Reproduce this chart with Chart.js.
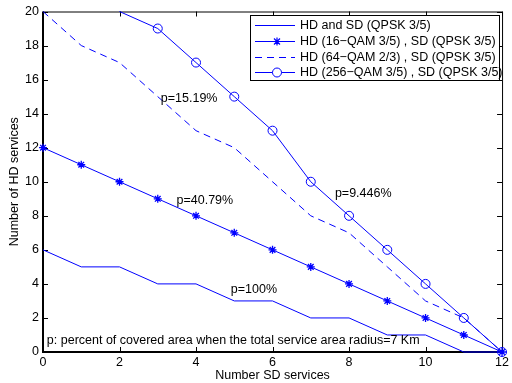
<!DOCTYPE html>
<html>
<head>
<meta charset="utf-8">
<script src="https://cdn.jsdelivr.net/npm/chart.js@4/dist/chart.umd.min.js"></script>
<style>
  html, body { margin: 0; padding: 0; background: #fff; }
  canvas { display: block; }
</style>
</head>
<body>
<canvas id="hdChart" width="512" height="383"></canvas>
<script>
// Number of SD services (x axis)
const sdServices = [0, 1, 2, 3, 4, 5, 6, 7, 8, 9, 10, 11, 12];

// Number of HD services for each case
const hdQpsk = [6, 5, 5, 4, 4, 3, 3, 2, 2, 1, 1, 0, 0];
const hd16qam = [12, 11, 10, 9, 8, 7, 6, 5, 4, 3, 2, 1, 0];
const hd64qam = [20, 18, 17, 15, 13, 12, 10, 8, 7, 5, 3, 2, 0];
const hd256qam = [null, null, 20, 19, 17, 15, 13, 10, 8, 6, 4, 2, 0];

const seriesNames = [
    'HD and SD (QPSK 3/5)',
    'HD (16\u2212QAM 3/5) , SD (QPSK 3/5)',
    'HD (64\u2212QAM 2/3) , SD (QPSK 3/5)',
    'HD (256\u2212QAM 3/5) , SD (QPSK 3/5)'
];

const xTicks = [0, 2, 4, 6, 8, 10, 12];
const yTicks = [0, 2, 4, 6, 8, 10, 12, 14, 16, 18, 20];

// text notes placed in data coordinates
const notes = [
    { text: 'p=15.19%', x: 3.08, y: 14.9 },
    { text: 'p=40.79%', x: 3.49, y: 8.91 },
    { text: 'p=9.446%', x: 7.63, y: 9.32 },
    { text: 'p=100%', x: 4.91, y: 3.69 },
    { text: 'p: percent of covered area when the total service area radius=7 Km', x: 0.1, y: 0.7 }
];

const blue = '#0000ff';
const font = "'Liberation Sans', Arial, sans-serif";
const fontSize = 12.5;

function toPoints(values) {
    return sdServices.map((x, i) => ({ x: x, y: values[i] }));
}

// box and inward ticks (matlab look), drawn under the data
const matlabFrame = {
    id: 'matlabFrame',
    beforeDatasetsDraw(chart) {
        const ctx = chart.ctx;
        const a = chart.chartArea;
        const xs = chart.scales.x;
        const ys = chart.scales.y;
        ctx.save();
        ctx.strokeStyle = '#000';
        ctx.lineWidth = 1;
        ctx.beginPath();
        xTicks.forEach(t => {
            const px = Math.round(xs.getPixelForValue(t)) + 0.5;
            ctx.moveTo(px, a.bottom); ctx.lineTo(px, a.bottom - 5);
            ctx.moveTo(px, a.top); ctx.lineTo(px, a.top + 5);
        });
        yTicks.forEach(t => {
            const py = Math.round(ys.getPixelForValue(t)) + 0.5;
            ctx.moveTo(a.left, py); ctx.lineTo(a.left + 5, py);
            ctx.moveTo(a.right, py); ctx.lineTo(a.right - 5, py);
        });
        ctx.stroke();

        // top and right thin
        ctx.beginPath();
        ctx.moveTo(a.left, a.top + 0.5); ctx.lineTo(a.right + 0.5, a.top + 0.5);
        ctx.lineTo(a.right + 0.5, a.bottom);
        ctx.stroke();
        // left and bottom thick
        ctx.lineWidth = 2;
        ctx.beginPath();
        ctx.moveTo(a.left, a.top); ctx.lineTo(a.left, a.bottom);
        ctx.lineTo(a.right + 1, a.bottom);
        ctx.stroke();
        ctx.restore();
    },
    // legend and notes on top
    afterDraw(chart) {
        const ctx = chart.ctx;
        const xs = chart.scales.x;
        const ys = chart.scales.y;
        ctx.save();
        ctx.fillStyle = '#000';
        ctx.font = fontSize + 'px ' + font;
        ctx.textBaseline = 'middle';
        ctx.textAlign = 'left';
        notes.forEach(n => {
            ctx.fillText(n.text, xs.getPixelForValue(n.x), ys.getPixelForValue(n.y));
        });

        const lx = 250, ly = 15, lw = 249, lh = 65;
        ctx.fillStyle = '#fff';
        ctx.fillRect(lx, ly, lw, lh);
        ctx.strokeStyle = '#000';
        ctx.lineWidth = 1;
        ctx.strokeRect(lx + 0.5, ly + 0.5, lw, lh);
        const rows = [25, 41, 57, 72];
        chart.data.datasets.forEach((ds, i) => {
            const y = rows[i] + 0.5;
            ctx.strokeStyle = blue;
            ctx.lineWidth = 1;
            ctx.setLineDash(ds.borderDash || []);
            ctx.beginPath();
            ctx.moveTo(255, y); ctx.lineTo(295, y);
            ctx.stroke();
            ctx.setLineDash([]);
            if (ds.pointStyle === 'star') {
                ctx.lineWidth = 1.2;
                ctx.beginPath();
                ctx.moveTo(277 - 4, y); ctx.lineTo(277 + 4, y);
                ctx.moveTo(277, y - 4); ctx.lineTo(277, y + 4);
                ctx.moveTo(277 - 3, y - 3); ctx.lineTo(277 + 3, y + 3);
                ctx.moveTo(277 - 3, y + 3); ctx.lineTo(277 + 3, y - 3);
                ctx.stroke();
            } else if (ds.pointStyle === 'circle') {
                ctx.fillStyle = '#fff';
                ctx.beginPath();
                ctx.arc(277, y, 4.5, 0, Math.PI * 2);
                ctx.fill();
                ctx.stroke();
            }
            ctx.fillStyle = '#000';
            ctx.fillText(seriesNames[i], 300, y);
        });
        ctx.restore();
    }
};

const ctx = document.getElementById('hdChart').getContext('2d');
const hdChart = new Chart(ctx, {
    type: 'line',
    data: {
        datasets: [{
            label: seriesNames[0],
            data: toPoints(hdQpsk),
            borderColor: blue,
            borderWidth: 1,
            pointRadius: 0,
            clip: false
        }, {
            label: seriesNames[1],
            data: toPoints(hd16qam),
            borderColor: blue,
            borderWidth: 1,
            pointStyle: 'star',
            pointRadius: 4,
            pointBorderColor: blue,
            pointBorderWidth: 1.3,
            clip: false
        }, {
            label: seriesNames[2],
            data: toPoints(hd64qam),
            borderColor: blue,
            borderWidth: 1,
            borderDash: [7, 5],
            pointRadius: 0,
            clip: false
        }, {
            label: seriesNames[3],
            data: toPoints(hd256qam),
            borderColor: blue,
            borderWidth: 1,
            pointStyle: 'circle',
            pointRadius: hd256qam.map(v => (v === 20 ? 0 : 4.5)),
            pointBorderColor: blue,
            pointBackgroundColor: 'rgba(255,255,255,0)',
            pointBorderWidth: 1,
            clip: false
        }]
    },
    options: {
        responsive: false,
        animation: false,
        devicePixelRatio: 1,
        layout: { padding: { top: 11, right: 5, left: 0, bottom: 0 } },
        plugins: {
            legend: { display: false },
            tooltip: { enabled: false }
        },
        elements: { line: { tension: 0 } },
        scales: {
            x: {
                type: 'linear',
                min: 0,
                max: 12,
                afterFit: s => { s.height = 31; },
                afterBuildTicks: s => { s.ticks = xTicks.map(v => ({ value: v })); },
                grid: { display: false, drawTicks: false },
                border: { display: false },
                ticks: { color: '#000', font: { family: font, size: fontSize }, padding: 3, maxRotation: 0 },
                title: {
                    display: true,
                    text: 'Number SD services',
                    color: '#000',
                    font: { family: font, size: fontSize },
                    padding: { top: 0, bottom: 0 }
                }
            },
            y: {
                type: 'linear',
                min: 0,
                max: 20,
                afterFit: s => { s.width = 43; },
                afterBuildTicks: s => { s.ticks = yTicks.map(v => ({ value: v })); },
                grid: { display: false, drawTicks: false },
                border: { display: false },
                ticks: { color: '#000', font: { family: font, size: fontSize }, padding: 4 },
                title: {
                    display: true,
                    text: 'Number of HD services',
                    color: '#000',
                    font: { family: font, size: fontSize },
                    padding: { top: 7, bottom: 0 }
                }
            }
        }
    },
    plugins: [matlabFrame]
});
</script>
</body>
</html>
